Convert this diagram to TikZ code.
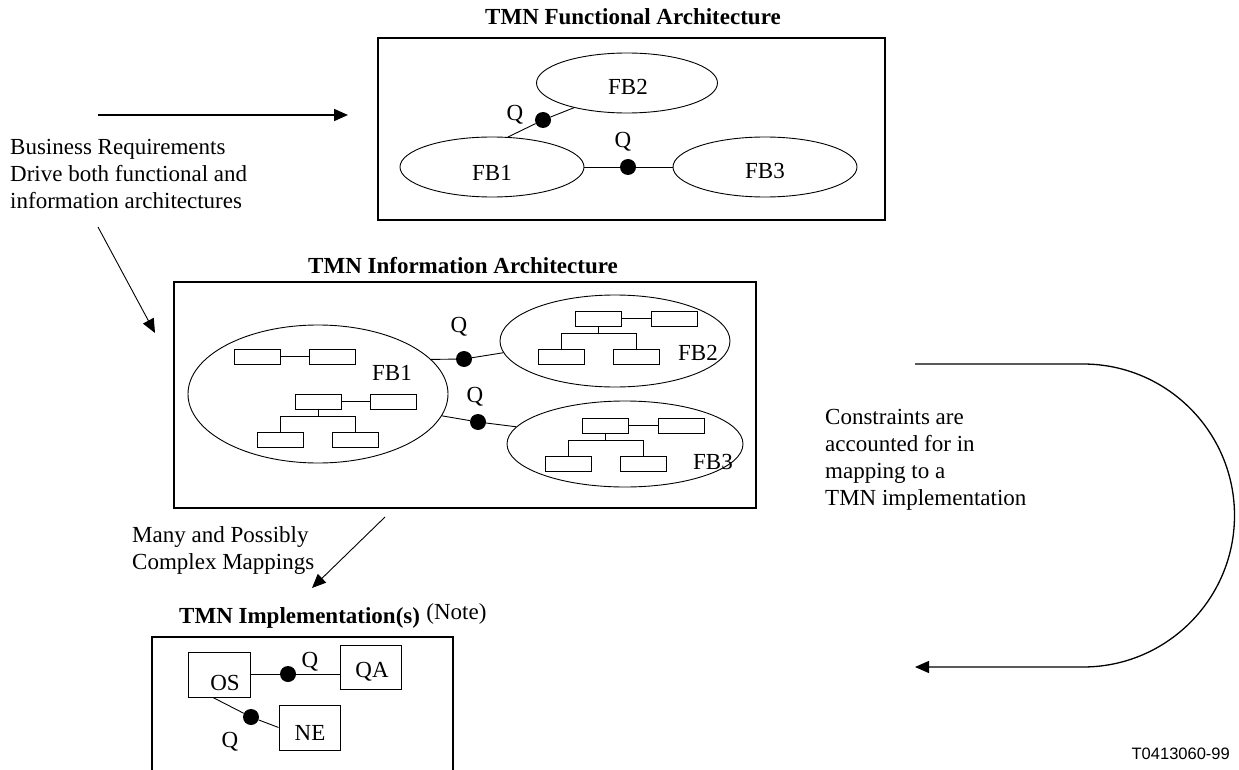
\documentclass[tikz,border=0pt]{standalone}
\usepackage{fontspec}
\setmainfont{Liberation Serif}
\newfontfamily\tagfont{Liberation Sans}
\usetikzlibrary{shapes.geometric,arrows.meta}

% small management tree: a parent box with a peer, forking to two children
\newcommand\mgmttree[3]{%
  \node[minibox] (#1top) at (#2,#3) {};
  \node[minibox] (#1peer) at (#2+75.5,#3) {};
  \draw[link] (#1top.east) -- (#1peer.west);
  \coordinate (#1fork) at (#2,#3+15);
  \draw[link] (#1top.south) -- (#1fork);
  \node[minibox] (#1left) at (#2-37.5,#3+38) {};
  \node[minibox] (#1right) at (#2+37.5,#3+38) {};
  \draw[link] (#1left.north) |- (#1fork) -| (#1right.north);
}

\begin{document}
\begin{tikzpicture}[x=1pt,y=-1pt,
  every node/.style={font=\fontsize{23}{27}\selectfont, inner sep=0pt},
  frame/.style={draw, line width=1.2pt},
  fbell/.style={draw, ellipse, line width=0.9pt, inner sep=0pt},
  qdot/.style={circle, fill=black, minimum size=16pt, inner sep=0pt},
  link/.style={line width=0.9pt},
  minibox/.style={draw, line width=0.9pt, minimum width=46pt, minimum height=15pt},
  devbox/.style={draw, line width=0.9pt, minimum width=61pt, minimum height=45pt},
  title/.style={font=\fontsize{23}{27}\selectfont\bfseries, anchor=base west},
  note/.style={align=left, anchor=north west},
  flow/.style={line width=0.9pt, -{Triangle[length=14pt,width=12pt]}},
]
\useasboundingbox (0,0) rectangle (1239,770);

% ---------- functional architecture ----------
\node[title] (fatitle) at (485,25) {TMN Functional Architecture};
\draw[frame] (378,38) rectangle (885,220);
\node[fbell, minimum width=184pt, minimum height=60pt] (f1) at (492,167) {};
\node[fbell, minimum width=181pt, minimum height=60pt] (f2) at (627,83) {};
\node[fbell, minimum width=184pt, minimum height=60pt] (f3) at (765,167) {};
\node (f1t) at (492,173) {FB1};
\node (f2t) at (628,87) {FB2};
\node (f3t) at (765,171) {FB3};
\node[qdot] (fq1) at (543,120) {};
\node[qdot] (fq2) at (628,167) {};
\draw[link] (f1.62) -- (fq1) -- (f2.205);
\draw[link] (f1.east) -- (fq2) -- (f3.west);
\node (fq1t) at (515,115) {Q};
\node (fq2t) at (623,142) {Q};

% ---------- information architecture ----------
\node[title] (iatitle) at (308,273) {TMN Information Architecture};
\draw[frame] (174,282) rectangle (756,508);
\node[fbell, minimum width=260pt, minimum height=138pt] (i1) at (318,394) {};
\node[fbell, minimum width=230pt, minimum height=92pt] (i2) at (615,341) {};
\node[fbell, minimum width=236pt, minimum height=86pt] (i3) at (625,444) {};
\node (i1t) at (392,373) {FB1};
\node (i2t) at (698,353) {FB2};
\node (i3t) at (713,462) {FB3};
\node[minibox] (pa) at (257,356.5) {};
\node[minibox] (pb) at (332,356.5) {};
\draw[line width=1.8pt] (pa) -- (pb);
\mgmttree{ta}{318}{401.5}
\mgmttree{tb}{598.5}{318.5}
\mgmttree{tc}{605.5}{425.5}
\node[qdot] (iq1) at (464,359) {};
\node[qdot] (iq2) at (478,422) {};
\draw[link] (i1.17) -- (iq1) -- (i2.186);
\draw[link] (i1.-10) -- (iq2) -- (i3.171);
\node (iq1t) at (459,327) {Q};
\node (iq2t) at (475,397) {Q};

% ---------- implementation ----------
\node[title] (imtitle) at (179,623) {TMN Implementation(s)};
\node[anchor=base west, xshift=6pt, yshift=4pt] (imnote) at (imtitle.base east) {(Note)};
\draw[frame] (152,770) |- (453,637) -- (453,770);
\node[devbox, minimum width=62pt] (os) at (219,674.5) {};
\node[devbox, minimum height=44pt] (qa) at (370.5,667) {};
\node[devbox] (ne) at (309.5,727.5) {};
\node (ost) at (225,683) {OS};
\node (qat) at (372,671.5) {QA};
\node (net) at (310,732.5) {NE};
\node[qdot] (d1) at (288,674) {};
\node[qdot] (d2) at (251,717) {};
\draw[link] (os.east |- d1) -- (d1) -- (qa.west |- d1);
\draw[link] (os.255) -- (d2) -- (ne.west);
\node (d1t) at (310,662) {Q};
\node (d2t) at (230,742) {Q};

% ---------- annotations and flows ----------
\node[note] (biz) at (10,139) {Business Requirements\\Drive both functional and\\information architectures};
\node[note] (cons) at (825,409) {Constraints are\\accounted for in\\mapping to a\\TMN implementation};
\node[note] (many) at (132,526) {Many and Possibly\\Complex Mappings};

\coordinate (bizA) at (98,115);
\coordinate (bizAtip) at (348,115);
\coordinate (bizB) at (98,227);
\coordinate (bizBtip) at (155,333);
\coordinate (mapA) at (385,517);
\coordinate (mapAtip) at (312,588);
\coordinate (consA) at (915,364);
\coordinate (consAtip) at (915,667);
\draw[flow, line width=1.7pt] (bizA) -- (bizAtip);
\draw[flow] (bizB) -- (bizBtip);
\draw[flow] (mapA) -- (mapAtip);
\draw[flow, line width=1.3pt] (consA) -- (1083,364) arc[start angle=-90, end angle=90, radius=151.5] -- (consAtip);

\node[font=\tagfont\fontsize{16.5}{20}\selectfont, anchor=base east] (tag) at (1230,759) {T0413060-99};
\end{tikzpicture}
\end{document}
